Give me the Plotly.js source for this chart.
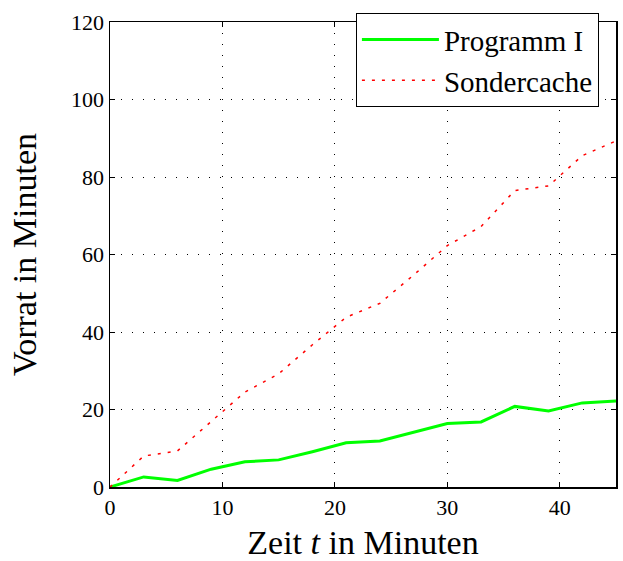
<!DOCTYPE html>
<html>
<head>
<meta charset="utf-8">
<script src="https://cdn.plot.ly/plotly-3.0.1.min.js"></script>
<style>html,body{margin:0;padding:0;background:#fff;}#chart{width:623px;height:561px;}</style>
</head>
<body>
<div id="chart"></div>
<script>
const zeit = [0, 3, 6, 9, 12, 15, 18, 21, 24, 27, 30, 33, 36, 39, 42, 45];
const programmI = [0, 2.6, 1.7, 4.6, 6.5, 7.0, 9.1, 11.4, 11.9, 14.2, 16.4, 16.8, 20.8, 19.6, 21.7, 22.2];
const sondercache = [0, 8.0, 9.3, 16.8, 24.5, 29.2, 36.7, 43.8, 47.4, 54.7, 62.3, 67.2, 76.5, 77.7, 85.5, 89.3];
const xTicks = [0, 10, 20, 30, 40];
const yTicks = [0, 20, 40, 60, 80, 100, 120];

const font = 'Liberation Serif, Times New Roman, serif';

const traces = [
  {x: zeit, y: programmI, name: 'Programm I', mode: 'lines', type: 'scatter',
   line: {color: '#00ff00', width: 3}},
  {x: zeit, y: sondercache, name: 'Sondercache', mode: 'lines', type: 'scatter',
   line: {color: '#ff0000', width: 1.5, dash: '3px,7px'}}
];

const axisCommon = {
  showline: true, linecolor: '#000', linewidth: 1.5, mirror: 'ticks',
  ticks: 'inside', ticklen: 5, tickcolor: '#000', tickwidth: 1,
  showgrid: true, gridcolor: '#000', gridwidth: 1, griddash: '1px,10px',
  zeroline: false, tickfont: {family: font, size: 22, color: '#000'}
};

const layout = {
  width: 623, height: 561,
  margin: {l: 110, r: 7, t: 22, b: 74},
  paper_bgcolor: '#fff', plot_bgcolor: '#fff',
  font: {family: font, color: '#000'},
  xaxis: Object.assign({}, axisCommon, {
    range: [0, 45], tickvals: xTicks, ticktext: xTicks.map(String),
    title: {text: 'Zeit <i>t</i> in Minuten', font: {family: font, size: 34, color: '#000'}, standoff: 24}
  }),
  yaxis: Object.assign({}, axisCommon, {
    range: [0, 120], tickvals: yTicks, ticktext: yTicks.map(String),
    title: {text: 'Vorrat in Minuten', font: {family: font, size: 34, color: '#000'}, standoff: 24}
  }),
  showlegend: true,
  legend: {
    x: 0.486, y: 1.019, xanchor: 'left', yanchor: 'top',
    bgcolor: '#fff', bordercolor: '#000', borderwidth: 1,
    font: {family: font, size: 29, color: '#000'},
    itemwidth: 77, tracegroupgap: 0, entrywidth: 185
  }
};

Plotly.newPlot('chart', traces, layout, {displayModeBar: false, staticPlot: true});
</script>
</body>
</html>
